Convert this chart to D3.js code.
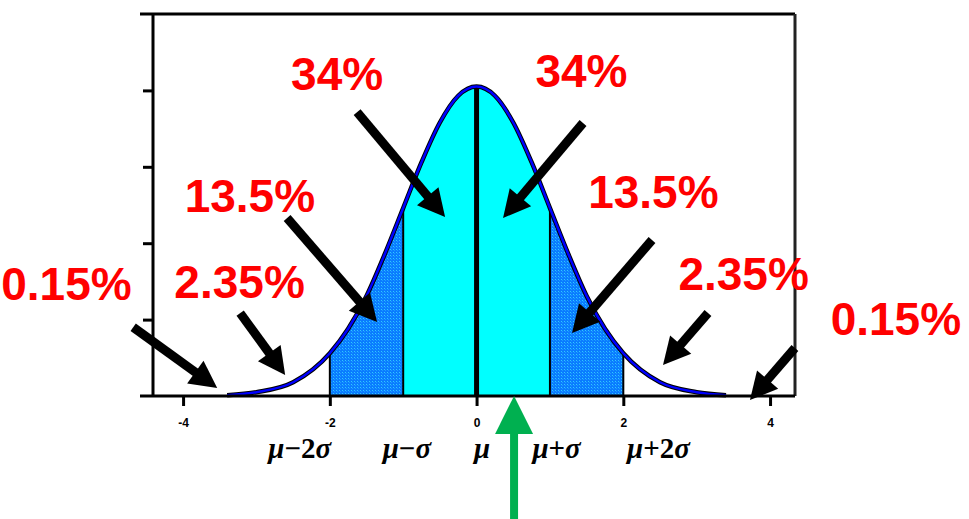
<!DOCTYPE html>
<html>
<head>
<meta charset="utf-8">
<script src="https://cdn.jsdelivr.net/npm/d3@7"></script>
<style>
  body { margin: 0; background: #fff; }
</style>
</head>
<body>
<script>
// Normal curve with the 68-95-99.7 bands, percentages pointed at by arrows

// curve: x in sd units, y = density
var curveX = [-3.4, -3, -2.5, -2, -1.75, -1.5, -1.25, -1, -0.75, -0.5, -0.25, 0,
              0.25, 0.5, 0.75, 1, 1.25, 1.5, 1.75, 2, 2.5, 3, 3.4];
var curveY = [0.001, 0.005, 0.018, 0.056, 0.088, 0.131, 0.186, 0.246, 0.306, 0.358, 0.393, 0.405,
              0.393, 0.358, 0.306, 0.246, 0.186, 0.131, 0.088, 0.056, 0.018, 0.005, 0.001];

var xTicks = [-4, -2, 0, 2, 4];
var yTicks = [0.1, 0.2, 0.3, 0.4];
var bandEdges = [-2, -1, 0, 1, 2];

var sigmaLabels = ["μ−2σ", "μ−σ", "μ", "μ+σ", "μ+2σ"];
var sigmaLabelX = [-2.41, -0.95, 0.075, 1.09, 2.48];

var pctLabels = ["0.15%", "2.35%", "13.5%", "34%", "34%", "13.5%", "2.35%", "0.15%"];
var pctX = [-5.59, -3.23, -3.09, -1.90, 1.43, 2.41, 3.64, 5.715];
var pctY = [0.1257, 0.1283, 0.2408, 0.4005, 0.4045, 0.2461, 0.1387, 0.0798];

// arrow tail -> tip, same units as the curve
var arrowFrom = [[-4.68, 0.090], [-3.222, 0.1086], [-2.582, 0.233], [-1.628, 0.3717],
                 [1.451, 0.3573], [2.391, 0.2042], [3.154, 0.1086], [4.339, 0.0628]];
var arrowTo = [[-3.535, 0.0105], [-2.609, 0.0275], [-1.356, 0.0969], [-0.429, 0.2343],
               [0.361, 0.2330], [1.301, 0.0825], [2.541, 0.0406], [3.726, -0.0052]];
var meanArrow = [[0.511, -0.161], [0.511, 0]];

var width = 969, height = 519;

var svg = d3.select("body").append("svg")
  .attr("width", width)
  .attr("height", height);

var x = d3.scaleLinear().domain([-4.41, 4.34]).range([153, 795]);
var y = d3.scaleLinear().domain([0, 0.5]).range([396, 14]);

var pts = curveX.map(function (d, i) { return [d, curveY[i]]; });

// dotted blue fill for the 1-2 sigma bands
var defs = svg.append("defs");
var pat = defs.append("pattern")
  .attr("id", "dots")
  .attr("patternUnits", "userSpaceOnUse")
  .attr("width", 3).attr("height", 3);
pat.append("rect").attr("width", 3).attr("height", 3).attr("fill", "#0a7cff");
pat.append("rect").attr("width", 1).attr("height", 1).attr("fill", "#30c8ff");
pat.append("rect").attr("x", 1).attr("y", 1).attr("width", 1).attr("height", 1).attr("fill", "#1d9cff");

var bands = [
  { lo: -2, hi: -1, fill: "url(#dots)" },
  { lo: -1, hi: 1, fill: "#00ffff" },
  { lo: 1, hi: 2, fill: "url(#dots)" }
];

bands.forEach(function (b, i) {
  defs.append("clipPath").attr("id", "band" + i)
    .append("rect")
    .attr("x", x(b.lo)).attr("y", 0)
    .attr("width", x(b.hi) - x(b.lo)).attr("height", height);
});

var area = d3.area()
  .x(function (d) { return x(d[0]); })
  .y0(y(0))
  .y1(function (d) { return y(d[1]); })
  .curve(d3.curveMonotoneX);

svg.selectAll(".band")
  .data(bands)
  .enter()
  .append("path")
  .attr("class", "band")
  .attr("d", area(pts))
  .attr("fill", function (d) { return d.fill; })
  .attr("clip-path", function (d, i) { return "url(#band" + i + ")"; });

// band edges up to the curve
function densityAt(v) {
  return curveY[curveX.indexOf(v)];
}
svg.selectAll(".edge")
  .data(bandEdges)
  .enter()
  .append("line")
  .attr("x1", function (d) { return x(d); })
  .attr("x2", function (d) { return x(d); })
  .attr("y1", y(0))
  .attr("y2", function (d) { return y(densityAt(d)); })
  .attr("stroke", "#000")
  .attr("stroke-width", function (d) { return d === 0 ? 5 : 2; });

// the curve: black edge, blue core
var line = d3.line()
  .x(function (d) { return x(d[0]); })
  .y(function (d) { return y(d[1]); })
  .curve(d3.curveMonotoneX);

svg.append("path").attr("d", line(pts))
  .attr("fill", "none").attr("stroke", "#000").attr("stroke-width", 4.5);
svg.append("path").attr("d", line(pts))
  .attr("fill", "none").attr("stroke", "#0000ff").attr("stroke-width", 2.5);

// frame
var x0 = x.range()[0], x1 = x.range()[1];
var yTop = y.range()[1], yBot = y.range()[0];
svg.append("line").attr("x1", x0 - 13).attr("x2", x1).attr("y1", yTop).attr("y2", yTop)
  .attr("stroke", "#000").attr("stroke-width", 3);
svg.append("line").attr("x1", x1).attr("x2", x1).attr("y1", yTop).attr("y2", yBot)
  .attr("stroke", "#222").attr("stroke-width", 3);

// axes
var xAxis = d3.axisBottom(x)
  .tickValues(xTicks)
  .tickSize(10)
  .tickPadding(12)
  .tickFormat(function (d) { return String(d); });

var gx = svg.append("g")
  .attr("transform", "translate(0," + yBot + ")")
  .call(xAxis);
gx.select(".domain").remove();
gx.selectAll(".tick line").attr("stroke", "#000").attr("stroke-width", 3);
gx.selectAll(".tick text")
  .attr("fill", "#000")
  .style("font-family", "Liberation Sans, Arial, sans-serif")
  .style("font-size", "12px")
  .style("font-weight", "bold");

var yAxis = d3.axisLeft(y)
  .tickValues(yTicks)
  .tickSize(10)
  .tickFormat("");

var gy = svg.append("g")
  .attr("transform", "translate(" + x0 + ",0)")
  .call(yAxis);
gy.select(".domain").remove();
gy.selectAll(".tick line").attr("stroke", "#000").attr("stroke-width", 3);

svg.append("line").attr("x1", x0).attr("x2", x0).attr("y1", yTop).attr("y2", yBot)
  .attr("stroke", "#000").attr("stroke-width", 3);
svg.append("line").attr("x1", x0 - 13).attr("x2", x1).attr("y1", yBot).attr("y2", yBot)
  .attr("stroke", "#000").attr("stroke-width", 3);

// sigma labels under the axis, greek letters in italic
var sig = svg.selectAll(".sigma")
  .data(sigmaLabels)
  .enter()
  .append("text")
  .attr("class", "sigma")
  .attr("x", function (d, i) { return x(sigmaLabelX[i]); })
  .attr("y", 458)
  .attr("text-anchor", "middle")
  .style("font-family", "Liberation Serif, Times New Roman, serif")
  .style("font-size", "29px")
  .style("font-weight", "bold");

sig.each(function (d) {
  var t = d3.select(this);
  d.split("").forEach(function (ch) {
    t.append("tspan")
      .style("font-style", (ch === "μ" || ch === "σ") ? "italic" : "normal")
      .text(ch);
  });
});

// arrows
function drawArrow(from, to, color, w, L, H) {
  var ax = x(from[0]), ay = y(from[1]);
  var bx = x(to[0]), by = y(to[1]);
  var dx = bx - ax, dy = by - ay;
  var len = Math.sqrt(dx * dx + dy * dy);
  var ux = dx / len, uy = dy / len;
  var cx = bx - ux * L, cy = by - uy * L;
  svg.append("line")
    .attr("x1", ax).attr("y1", ay)
    .attr("x2", cx + ux * 2).attr("y2", cy + uy * 2)
    .attr("stroke", color).attr("stroke-width", w);
  svg.append("polygon")
    .attr("points", [[bx, by], [cx - uy * H, cy + ux * H], [cx + uy * H, cy - ux * H]].join(" "))
    .attr("fill", color);
}

arrowFrom.forEach(function (f, i) {
  drawArrow(f, arrowTo[i], "#000", 9, 27, 14);
});
drawArrow(meanArrow[0], meanArrow[1], "#00b050", 8, 38, 19);

// percentage labels
svg.selectAll(".pct")
  .data(pctLabels)
  .enter()
  .append("text")
  .attr("class", "pct")
  .attr("x", function (d, i) { return x(pctX[i]); })
  .attr("y", function (d, i) { return y(pctY[i]); })
  .attr("text-anchor", "middle")
  .attr("fill", "#ff0000")
  .style("font-family", "Liberation Sans, Arial, sans-serif")
  .style("font-size", "46px")
  .style("font-weight", "bold")
  .text(function (d) { return d; });
</script>
</body>
</html>
